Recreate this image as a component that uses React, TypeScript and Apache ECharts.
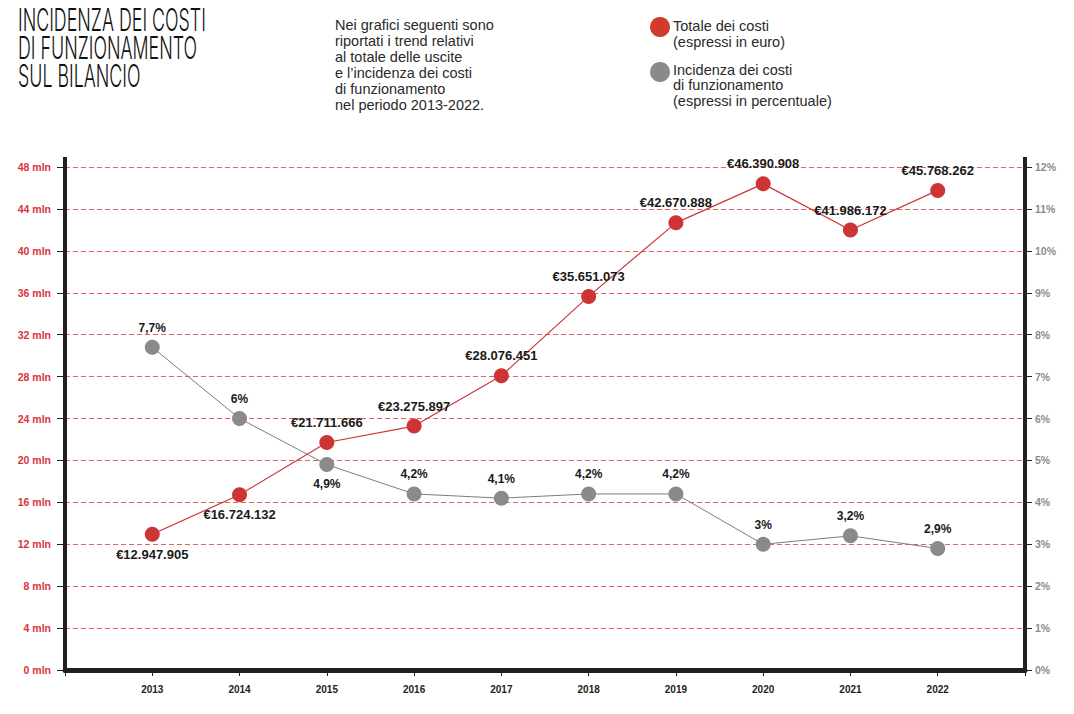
import React, { useEffect, useRef } from "react";
import * as echarts from "echarts";

const years = [2013, 2014, 2015, 2016, 2017, 2018, 2019, 2020, 2021, 2022];
const totalCosts = [12947905, 16724132, 21711666, 23275897, 28076451, 35651073, 42670888, 46390908, 41986172, 45768262];
const incidence = [7.7, 6, 4.9, 4.2, 4.1, 4.2, 4.2, 3, 3.2, 2.9];
const redBelow = [2013, 2014];
const greyBelow = [2015];

const titleLines = ["INCIDENZA DEI COSTI", "DI FUNZIONAMENTO", "SUL BILANCIO"];
const noteLines = [
  "Nei grafici seguenti sono",
  "riportati i trend relativi",
  "al totale delle uscite",
  "e l\u2019incidenza dei costi",
  "di funzionamento",
  "nel periodo 2013-2022.",
];
const legendRed = ["Totale dei costi", "(espressi in euro)"];
const legendGrey = ["Incidenza dei costi", "di funzionamento", "(espressi in percentuale)"];

const RED = "#cd3535";
const GREY = "#8a8a8a";
const DARK = "#231f20";
const SANS = "'Liberation Sans', Arial, sans-serif";

const fmtEuro = (n: number) => "\u20ac" + String(n).replace(/\B(?=(\d{3})+(?!\d))/g, ".");

export default function App() {
  const ref = useRef<HTMLDivElement>(null);
  useEffect(() => {
    if (!ref.current) return;
    const chart = echarts.init(ref.current, null, { renderer: "svg" });

    const graphics: any[] = [];
    titleLines.forEach((t, i) => {
      graphics.push({
        type: "text",
        x: 18,
        y: 5 + i * 28,
        scaleX: 0.585,
        style: { text: t, fontFamily: "Inter, 'Liberation Sans', sans-serif", fontSize: 30.5, fontWeight: 300, fill: "#111111" },
      });
    });
    noteLines.forEach((t, i) => {
      graphics.push({
        type: "text",
        x: 335,
        y: 17 + i * 16,
        style: { text: t, fontFamily: SANS, fontSize: 14.5, fill: "#2a2a2a" },
      });
    });
    graphics.push({ type: "circle", shape: { cx: 660, cy: 27, r: 10 }, style: { fill: "#d23a2e" } });
    legendRed.forEach((t, i) => {
      graphics.push({ type: "text", x: 673, y: 18 + i * 16, style: { text: t, fontFamily: SANS, fontSize: 14.5, fill: "#2a2a2a" } });
    });
    graphics.push({ type: "circle", shape: { cx: 660, cy: 72, r: 10 }, style: { fill: GREY } });
    legendGrey.forEach((t, i) => {
      graphics.push({ type: "text", x: 673, y: 62 + i * 15.5, style: { text: t, fontFamily: SANS, fontSize: 14.5, fill: "#2a2a2a" } });
    });
    // axis extensions above the plot
    graphics.push({ type: "line", shape: { x1: 65, y1: 157, x2: 65, y2: 168 }, style: { stroke: DARK, lineWidth: 4 } });
    graphics.push({ type: "line", shape: { x1: 1025, y1: 157, x2: 1025, y2: 168 }, style: { stroke: DARK, lineWidth: 4 } });

    const redData = years.map((y, i) => ({
      value: [y, totalCosts[i] / 1e6],
      label: { position: redBelow.includes(y) ? "bottom" : "top" },
    }));
    const greyData = years.map((y, i) => ({
      value: [y, incidence[i]],
      label: { position: greyBelow.includes(y) ? "bottom" : "top" },
    }));

    chart.setOption({
      animation: false,
      backgroundColor: "#ffffff",
      grid: { left: 65, right: 49, top: 167, bottom: 44 },
      graphic: graphics,
      xAxis: {
        type: "value",
        min: 2012,
        max: 2023,
        interval: 1,
        axisLine: { show: true, lineStyle: { color: DARK, width: 5 } },
        axisTick: { show: true, length: 6, lineStyle: { color: DARK, width: 1 } },
        splitLine: { show: false },
        axisLabel: {
          formatter: (v: number) => (v === 2012 || v === 2023 ? "" : String(v)),
          fontFamily: SANS,
          fontWeight: "bold",
          fontSize: 10,
          color: DARK,
          margin: 14,
        },
      },
      yAxis: [
        {
          type: "value",
          min: 0,
          max: 48,
          interval: 4,
          position: "left",
          axisLine: { show: true, lineStyle: { color: DARK, width: 4 } },
          axisTick: { show: true, length: 8, lineStyle: { color: DARK, width: 1 } },
          splitLine: { show: true, lineStyle: { color: "#e06464", type: [5, 3], width: 1 } },
          axisLabel: {
            formatter: (v: number) => v + " mln",
            fontFamily: SANS,
            fontWeight: "bold",
            fontSize: 10.5,
            color: "#d8343c",
            margin: 14,
            padding: [0, 0, 6, 0],
          },
        },
        {
          type: "value",
          min: 0,
          max: 12,
          interval: 1,
          position: "right",
          axisLine: { show: true, lineStyle: { color: DARK, width: 4 } },
          axisTick: { show: true, length: 7, lineStyle: { color: DARK, width: 1 } },
          splitLine: { show: false },
          axisLabel: {
            formatter: (v: number) => v + "%",
            fontFamily: SANS,
            fontWeight: "bold",
            fontSize: 10.5,
            color: "#8c8c8c",
            margin: 10,
            padding: [0, 0, 4, 0],
          },
        },
      ],
      series: [
        {
          name: "Incidenza dei costi di funzionamento",
          type: "line",
          yAxisIndex: 1,
          data: greyData,
          symbol: "circle",
          symbolSize: 15,
          itemStyle: { color: GREY },
          lineStyle: { color: "#7d7d7d", width: 1 },
          label: {
            show: true,
            distance: 6,
            fontFamily: SANS,
            fontWeight: "bold",
            fontSize: 12,
            color: "#1a1a1a",
            formatter: (p: any) => String(p.value[1]).replace(".", ",") + "%",
          },
          z: 2,
        },
        {
          name: "Totale dei costi",
          type: "line",
          yAxisIndex: 0,
          data: redData,
          symbol: "circle",
          symbolSize: 15,
          itemStyle: { color: RED },
          lineStyle: { color: RED, width: 1.2 },
          label: {
            show: true,
            distance: 6,
            fontFamily: SANS,
            fontWeight: "bold",
            fontSize: 13,
            color: "#1a1a1a",
            formatter: (p: any) => fmtEuro(totalCosts[p.dataIndex]),
          },
          z: 3,
        },
      ],
    });
    return () => chart.dispose();
  }, []);
  return <div ref={ref} style={{ width: 1074, height: 714, position: "absolute", left: 0, top: 0 }} />;
}
